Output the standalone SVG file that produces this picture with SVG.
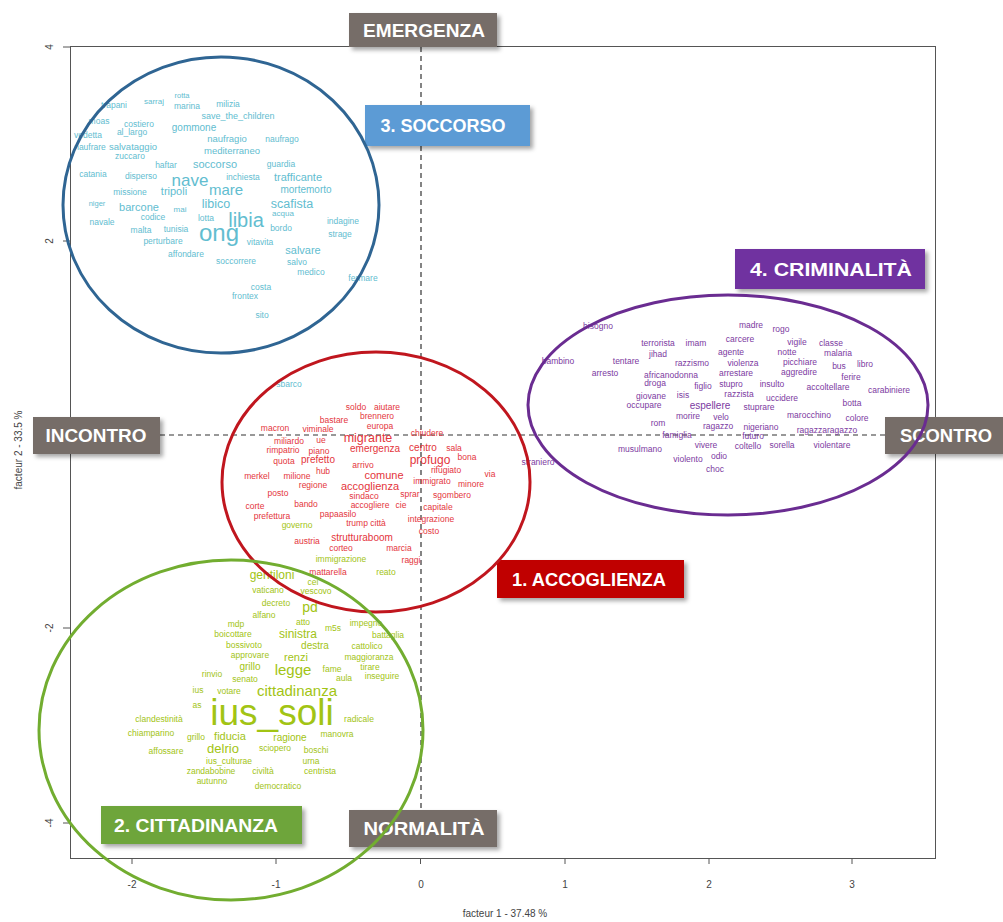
<svg xmlns="http://www.w3.org/2000/svg" width="1003" height="922" viewBox="0 0 1003 922">
<defs>
<style>
text{font-family:"Liberation Sans",Arial,sans-serif}
.w{font-size:8.5px;text-anchor:middle}
.b{fill:#62bdd0}
.r{fill:#e4353c}
.g{fill:#a2c414}
.p{fill:#7c3a9f}
.tick{font-size:10px;fill:#444;text-anchor:middle}
.lab{font-family:"Liberation Sans Narrow","Liberation Sans",sans-serif;font-weight:bold;font-size:18px;fill:#fff;text-anchor:middle}
.box{filter:url(#sh)}
.ell{fill:none;stroke-width:3}
</style>
<filter id="sh" x="-10%" y="-20%" width="130%" height="160%">
<feDropShadow dx="3" dy="3" stdDeviation="2" flood-color="#000" flood-opacity="0.35"/>
</filter>
</defs>
<rect width="1003" height="922" fill="#fff"/>

<g id="axes" stroke="#555" stroke-width="1" fill="none">
<rect x="70.5" y="46.5" width="865" height="812"/>
<path d="M132 858v6M276 858v6M420.5 858v6M565 858v6M709 858v6M852 858v6M63 47h7M63 241h7M63 628h7M63 823h7"/>
</g>
<g id="axis-labels">
<text class="tick" x="132" y="888">-2</text>
<text class="tick" x="276" y="888">-1</text>
<text class="tick" x="421" y="888">0</text>
<text class="tick" x="565" y="888">1</text>
<text class="tick" x="709" y="888">2</text>
<text class="tick" x="852" y="888">3</text>
<text class="tick" transform="translate(53 47) rotate(-90)">4</text>
<text class="tick" transform="translate(53 241) rotate(-90)">2</text>
<text class="tick" transform="translate(53 628) rotate(-90)">-2</text>
<text class="tick" transform="translate(53 823) rotate(-90)">-4</text>
<text class="tick" x="505" y="917">facteur  1  - 37.48 %</text>
<text class="tick" transform="translate(22 450) rotate(-90)">facteur  2  - 33.5 %</text>
</g>

<g id="connectors" stroke="#333" stroke-width="1.2" stroke-dasharray="5 4" fill="none">
<path d="M421 47V810"/>
<path d="M160 435H886"/>
</g>

<g id="cluster-soccorso" class="w b">
<text x="182" y="98" font-size="7.5">rotta</text>
<text x="114" y="108">trapani</text>
<text x="154" y="104" font-size="8">sarraj</text>
<text x="187" y="109">marina</text>
<text x="228" y="107">milizia</text>
<text x="238" y="119" font-size="9">save_the_children</text>
<text x="99" y="124">moas</text>
<text x="139" y="127">costiero</text>
<text x="194" y="131" font-size="10">gommone</text>
<text x="88" y="138">vedetta</text>
<text x="132" y="135">al_largo</text>
<text x="227" y="142" font-size="9.5">naufragio</text>
<text x="282" y="142">naufrago</text>
<text x="90" y="150">naufrare</text>
<text x="133" y="150" font-size="9.5">salvataggio</text>
<text x="232" y="154" font-size="9.5">mediterraneo</text>
<text x="130" y="159">zuccaro</text>
<text x="166" y="168">haftar</text>
<text x="215" y="168" font-size="11">soccorso</text>
<text x="281" y="167">guardia</text>
<text x="93" y="177">catania</text>
<text x="141" y="179">disperso</text>
<text x="190" y="186" font-size="17">nave</text>
<text x="243" y="180">inchiesta</text>
<text x="298" y="181" font-size="11">trafficante</text>
<text x="130" y="195">missione</text>
<text x="174" y="195" font-size="11">tripoli</text>
<text x="226" y="195" font-size="15">mare</text>
<text x="306" y="193" font-size="10">mortemorto</text>
<text x="97" y="206" font-size="7.5">niger</text>
<text x="139" y="211" font-size="11">barcone</text>
<text x="180" y="212" font-size="8">mai</text>
<text x="216" y="208" font-size="12.5">libico</text>
<text x="292" y="208" font-size="12.5">scafista</text>
<text x="102" y="225">navale</text>
<text x="153" y="220">codice</text>
<text x="206" y="221">lotta</text>
<text x="246" y="227" font-size="20">libia</text>
<text x="283" y="216" font-size="8">acqua</text>
<text x="343" y="224">indagine</text>
<text x="141" y="233">malta</text>
<text x="176" y="232">tunisia</text>
<text x="219" y="241" font-size="24">ong</text>
<text x="281" y="231">bordo</text>
<text x="340" y="237">strage</text>
<text x="163" y="244">perturbare</text>
<text x="260" y="245">vitavita</text>
<text x="303" y="254" font-size="11">salvare</text>
<text x="186" y="257">affondare</text>
<text x="236" y="264">soccorrere</text>
<text x="297" y="265">salvo</text>
<text x="311" y="275">medico</text>
<text x="363" y="281">fermare</text>
<text x="261" y="290">costa</text>
<text x="245" y="299">frontex</text>
<text x="262" y="318">sito</text>
<text x="289" y="387">sbarco</text>
</g>

<g id="cluster-accoglienza" class="w r">
<text x="356" y="410">soldo</text>
<text x="387" y="410">aiutare</text>
<text x="334" y="423">bastare</text>
<text x="377" y="419">brennero</text>
<text x="380" y="429">europa</text>
<text x="275" y="431">macron</text>
<text x="318" y="432">viminale</text>
<text x="289" y="444">miliardo</text>
<text x="321" y="443">ue</text>
<text x="368" y="442" font-size="12.5">migrante</text>
<text x="427" y="436">chiudere</text>
<text x="375" y="452" font-size="10">emergenza</text>
<text x="423" y="451" font-size="10">centro</text>
<text x="454" y="451">sala</text>
<text x="283" y="453">rimpatrio</text>
<text x="319" y="454">piano</text>
<text x="284" y="464">quota</text>
<text x="318" y="463" font-size="10">prefetto</text>
<text x="430" y="464" font-size="12">profugo</text>
<text x="467" y="460">bona</text>
<text x="446" y="473">rifugiato</text>
<text x="363" y="468">arrivo</text>
<text x="490" y="477">via</text>
<text x="257" y="479">merkel</text>
<text x="297" y="479">milione</text>
<text x="323" y="474">hub</text>
<text x="384" y="479" font-size="11">comune</text>
<text x="432" y="484">immigrato</text>
<text x="471" y="487">minore</text>
<text x="313" y="488">regione</text>
<text x="370" y="490" font-size="11">accoglienza</text>
<text x="278" y="496">posto</text>
<text x="364" y="499">sindaco</text>
<text x="410" y="497">sprar</text>
<text x="452" y="498">sgombero</text>
<text x="255" y="509">corte</text>
<text x="306" y="507">bando</text>
<text x="370" y="508">accogliere</text>
<text x="401" y="508">cie</text>
<text x="438" y="510">capitale</text>
<text x="272" y="519">prefettura</text>
<text x="338" y="517">papaasilo</text>
<text x="431" y="522">integrazione</text>
<text x="366" y="526">trump città</text>
<text x="429" y="534">costo</text>
<text x="307" y="544">austria</text>
<text x="362" y="541" font-size="10">strutturaboom</text>
<text x="341" y="551">corteo</text>
<text x="399" y="551">marcia</text>
<text x="411" y="563">raggi</text>
<text x="328" y="575">mattarella</text>
</g>

<g id="cluster-cittadinanza" class="w g">
<text x="297" y="528">governo</text>
<text x="341" y="562">immigrazione</text>
<text x="386" y="575">reato</text>
<text x="272" y="579" font-size="12">gentiloni</text>
<text x="313" y="585">cei</text>
<text x="268" y="593">vaticano</text>
<text x="316" y="594">vescovo</text>
<text x="276" y="606">decreto</text>
<text x="310" y="612" font-size="14">pd</text>
<text x="264" y="618">alfano</text>
<text x="236" y="627">mdp</text>
<text x="303" y="625">atto</text>
<text x="333" y="631">m5s</text>
<text x="366" y="626">impegno</text>
<text x="233" y="637">boicottare</text>
<text x="298" y="638" font-size="12">sinistra</text>
<text x="388" y="638">battaglia</text>
<text x="244" y="648">bossivoto</text>
<text x="315" y="649" font-size="10">destra</text>
<text x="367" y="649">cattolico</text>
<text x="250" y="658">approvare</text>
<text x="296" y="661" font-size="11">renzi</text>
<text x="369" y="660">maggioranza</text>
<text x="250" y="670" font-size="10">grillo</text>
<text x="293" y="675" font-size="15">legge</text>
<text x="332" y="672">fame</text>
<text x="370" y="670">tirare</text>
<text x="212" y="677">rinvio</text>
<text x="245" y="682">senato</text>
<text x="344" y="681">aula</text>
<text x="382" y="679">inseguire</text>
<text x="198" y="693">ius</text>
<text x="229" y="694">votare</text>
<text x="297" y="696" font-size="15">cittadinanza</text>
<text x="197" y="708">as</text>
<text x="272" y="725" font-size="37">ius_soli</text>
<text x="159" y="722">clandestinità</text>
<text x="359" y="722">radicale</text>
<text x="151" y="736">chiamparino</text>
<text x="196" y="740">grillo</text>
<text x="230" y="740" font-size="11">fiducia</text>
<text x="290" y="741" font-size="10">ragione</text>
<text x="337" y="737">manovra</text>
<text x="166" y="754">affossare</text>
<text x="223" y="753" font-size="13">delrio</text>
<text x="275" y="751">sciopero</text>
<text x="316" y="753">boschi</text>
<text x="229" y="764">ius_culturae</text>
<text x="311" y="764">urna</text>
<text x="211" y="774">zandabobine</text>
<text x="263" y="774">civiltà</text>
<text x="320" y="774">centrista</text>
<text x="212" y="784">autunno</text>
<text x="278" y="789">democratico</text>
</g>

<g id="cluster-criminalita" class="w p">
<text x="598" y="329">bisogno</text>
<text x="751" y="328">madre</text>
<text x="781" y="332">rogo</text>
<text x="658" y="346">terrorista</text>
<text x="696" y="346">imam</text>
<text x="740" y="342">carcere</text>
<text x="797" y="345">vigile</text>
<text x="831" y="346">classe</text>
<text x="558" y="364">bambino</text>
<text x="626" y="364">tentare</text>
<text x="658" y="357">jihad</text>
<text x="692" y="366">razzismo</text>
<text x="731" y="355">agente</text>
<text x="787" y="355">notte</text>
<text x="838" y="356">malaria</text>
<text x="743" y="366">violenza</text>
<text x="800" y="365">picchiare</text>
<text x="839" y="369">bus</text>
<text x="865" y="367">libro</text>
<text x="605" y="376">arresto</text>
<text x="671" y="378">africanodonna</text>
<text x="736" y="376">arrestare</text>
<text x="799" y="375">aggredire</text>
<text x="851" y="380">ferire</text>
<text x="655" y="386">droga</text>
<text x="703" y="389">figlio</text>
<text x="731" y="387">stupro</text>
<text x="772" y="387">insulto</text>
<text x="828" y="390">accoltellare</text>
<text x="889" y="393">carabiniere</text>
<text x="651" y="399">giovane</text>
<text x="683" y="398">isis</text>
<text x="739" y="397">razzista</text>
<text x="782" y="401">uccidere</text>
<text x="852" y="406">botta</text>
<text x="644" y="408">occupare</text>
<text x="710" y="409" font-size="10">espellere</text>
<text x="759" y="410">stuprare</text>
<text x="688" y="419">morire</text>
<text x="721" y="420">velo</text>
<text x="809" y="418">marocchino</text>
<text x="857" y="421">colore</text>
<text x="658" y="426">rom</text>
<text x="718" y="429">ragazzo</text>
<text x="761" y="430">nigeriano</text>
<text x="827" y="433">ragazzaragazzo</text>
<text x="677" y="438">famiglia</text>
<text x="753" y="439">futuro</text>
<text x="640" y="452">musulmano</text>
<text x="706" y="448">vivere</text>
<text x="748" y="449">coltello</text>
<text x="782" y="448">sorella</text>
<text x="832" y="448">violentare</text>
<text x="688" y="462">violento</text>
<text x="719" y="459">odio</text>
<text x="715" y="472">choc</text>
<text x="538" y="465">straniero</text>
</g>

<g id="node-emergenza">
<rect class="box" x="349" y="13" width="148" height="34" fill="#766d67"/>
<text class="lab" x="424" y="37" textLength="122" lengthAdjust="spacingAndGlyphs">EMERGENZA</text>
</g>
<g id="node-incontro">
<rect class="box" x="33" y="417" width="127" height="37" fill="#766d67"/>
<text class="lab" x="96" y="442" textLength="101" lengthAdjust="spacingAndGlyphs">INCONTRO</text>
</g>
<g id="node-scontro">
<rect class="box" x="885" y="417" width="118" height="37" fill="#766d67"/>
<text class="lab" x="946" y="442" textLength="92" lengthAdjust="spacingAndGlyphs">SCONTRO</text>
</g>
<g id="node-normalita">
<rect class="box" x="349" y="810" width="148" height="37" fill="#766d67"/>
<text class="lab" x="424" y="835" textLength="121" lengthAdjust="spacingAndGlyphs">NORMALITÀ</text>
</g>
<g id="node-soccorso">
<rect class="box" x="365" y="105" width="165" height="41" fill="#5b9bd5"/>
<text class="lab" x="443" y="132" textLength="125" lengthAdjust="spacingAndGlyphs">3. SOCCORSO</text>
</g>
<g id="node-criminalita">
<rect class="box" x="735" y="249" width="190" height="40" fill="#7030a0"/>
<text class="lab" x="831" y="276" textLength="162" lengthAdjust="spacingAndGlyphs">4. CRIMINALITÀ</text>
</g>
<g id="node-accoglienza">
<rect class="box" x="497" y="560" width="187" height="38" fill="#c00000"/>
<text class="lab" x="589" y="586" textLength="154" lengthAdjust="spacingAndGlyphs">1. ACCOGLIENZA</text>
</g>
<g id="node-cittadinanza">
<rect class="box" x="101" y="806" width="201" height="38" fill="#6ea53a"/>
<text class="lab" x="196" y="832" textLength="164" lengthAdjust="spacingAndGlyphs">2. CITTADINANZA</text>
</g>

<g id="ellipses">
<ellipse id="ell-soccorso" class="ell" cx="221" cy="205" rx="158" ry="148" stroke="#2f6593"/>
<ellipse id="ell-accoglienza" class="ell" cx="376" cy="482" rx="154" ry="130" stroke="#c0161e"/>
<ellipse id="ell-cittadinanza" class="ell" cx="231" cy="730" rx="192" ry="170" stroke="#72ad30"/>
<ellipse id="ell-criminalita" class="ell" cx="728" cy="405" rx="200" ry="110" stroke="#6a2c91"/>
</g>
</svg>
